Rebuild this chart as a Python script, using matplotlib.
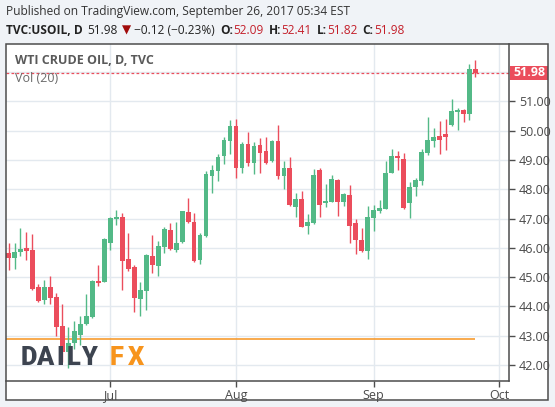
import matplotlib
matplotlib.use('Agg')
import matplotlib.pyplot as plt
from matplotlib.patches import Rectangle
from matplotlib.transforms import blended_transform_factory

# ---------------- data ----------------
opens = [45.81, 45.66, 45.86, 45.99, 45.92, 44.65, 44.23, 44.65, 44.31, 43.35,
         42.44, 42.75, 43.04, 43.41, 43.64, 44.87, 44.84, 46.17, 46.99, 47.05,
         45.61, 45.34, 44.24, 44.53, 45.72, 45.38, 46.03, 46.61, 45.92, 46.20,
         47.22, 46.88, 45.58, 46.40, 48.46, 48.64, 49.12, 49.66, 50.17, 48.74,
         49.55, 48.91, 49.52, 49.29, 48.95, 49.65, 48.46, 48.72, 47.40, 47.67,
         46.75, 46.85, 48.66, 47.53, 47.58, 48.32, 47.58, 47.80, 46.85, 46.26,
         45.90, 47.03, 47.26, 47.33, 48.57, 49.12, 49.04, 47.52, 48.07, 48.29,
         49.25, 49.66, 49.83, 49.89, 50.20, 50.65, 50.72, 50.57, 52.09]
highs = [46.17, 46.17, 46.69, 46.55, 46.49, 44.78, 44.89, 45.03, 44.45, 44.08,
         43.29, 43.50, 43.66, 44.41, 44.89, 45.41, 46.34, 47.06, 47.29, 47.20,
         46.51, 45.43, 44.84, 45.78, 46.43, 46.23, 46.72, 46.86, 46.88, 47.27,
         47.71, 47.18, 46.51, 48.63, 48.83, 49.21, 49.77, 50.37, 50.41, 49.62,
         49.94, 49.63, 49.75, 49.77, 49.69, 50.20, 48.95, 49.11, 47.86, 47.94,
         47.15, 48.70, 48.73, 48.18, 48.49, 48.35, 47.88, 48.15, 46.97, 46.68,
         47.43, 47.45, 47.63, 48.97, 49.38, 49.29, 49.23, 48.24, 48.40, 49.38,
         50.47, 50.09, 50.32, 50.41, 51.09, 50.77, 50.75, 52.26, 52.41]
lows = [45.26, 45.28, 45.72, 45.58, 44.55, 44.16, 44.07, 44.07, 42.98, 42.10,
        41.90, 42.55, 42.67, 43.38, 43.62, 44.69, 44.82, 45.92, 46.78, 44.55,
        45.20, 43.81, 43.66, 43.87, 45.14, 45.03, 45.83, 45.92, 45.86, 46.17,
        46.84, 45.53, 45.44, 46.38, 47.88, 48.29, 48.87, 49.21, 48.40, 48.57,
        48.81, 48.52, 48.57, 48.87, 48.92, 48.35, 48.01, 47.44, 47.06, 46.70,
        46.47, 46.81, 47.06, 47.40, 47.56, 47.10, 47.43, 46.17, 45.78, 45.86,
        45.61, 46.58, 47.18, 47.32, 48.55, 48.66, 47.32, 47.03, 47.78, 48.15,
        49.17, 49.44, 49.21, 49.35, 50.17, 50.03, 50.28, 50.37, 51.82]
closes = [45.67, 45.85, 45.96, 45.90, 44.61, 44.18, 44.65, 44.30, 43.29, 42.44,
          42.76, 43.15, 43.41, 43.66, 44.87, 44.80, 46.29, 47.03, 47.06, 45.55,
          45.27, 44.29, 44.55, 45.75, 45.42, 46.06, 46.64, 45.95, 46.15, 47.26,
          46.89, 45.55, 46.43, 48.52, 48.66, 49.11, 49.69, 50.17, 48.74, 49.55,
          48.91, 49.48, 49.25, 48.91, 49.65, 48.46, 48.72, 47.46, 47.67, 46.72,
          46.88, 48.49, 47.46, 47.60, 48.35, 47.58, 47.84, 46.75, 46.26, 45.90,
          47.05, 47.29, 47.37, 48.57, 49.14, 49.07, 47.37, 48.09, 48.32, 49.27,
          49.69, 49.78, 49.69, 49.77, 50.68, 50.69, 50.58, 52.09, 51.98]

month_ticks = [17, 38, 61, 82]          # bar index of first trading day
month_labels = ['Jul', 'Aug', 'Sep', 'Oct']
price_ticks = [42, 43, 44, 45, 46, 47, 48, 49, 50, 51]
last_price = 51.98
support_level = 42.90

header_title = "Published on TradingView.com, September 26, 2017 05:34 EST"
symbol_text = "TVC:USOIL, D"
last_text = "51.98"
change_text = "\u22120.12 (\u22120.23%)"
ohlc_keys = ["O:", "H:", "L:", "C:"]
ohlc_vals = ["52.09", "52.41", "51.82", "51.98"]
chart_title = "WTI CRUDE OIL, D, TVC"
vol_label = "Vol (20)"
logo_dark = ["D", "A", "I", "L", "Y"]
logo_orange = ["F", "X"]

# ---------------- styles ----------------
W, H = 555, 407
GREEN = '#53b987'
RED = '#eb4d5c'
GRID = '#e3e9ef'
AXC = '#4d4d4d'
TXT = '#4a4a4a'
FONT = 'Open Sans'
plt.rcParams['font.family'] = [FONT, 'DejaVu Sans']

fig = plt.figure(figsize=(W / 100, H / 100), dpi=100, facecolor='#f0f3f7')


def fx(px):
    return px / W


def fy(py):
    return 1 - py / H


# white chart panel
fig.add_artist(Rectangle((fx(6), fy(400)), fx(548) - fx(6), fy(44) - fy(400),
                         transform=fig.transFigure, facecolor='white',
                         edgecolor='none', zorder=-2))
fig.add_artist(Rectangle((fx(6), fy(400)), fx(548) - fx(6), fy(44) - fy(400),
                         transform=fig.transFigure, facecolor='none',
                         edgecolor=AXC, lw=1.1, zorder=10))

ax = fig.add_axes([fx(6), fy(381), fx(509.3) - fx(6), fy(44) - fy(381)])
ax.set_facecolor('none')
ax.set_xlim(-0.42, 83.65)
ax.set_ylim(41.457, 52.959)

for s in ['top', 'left']:
    ax.spines[s].set_visible(False)
for s in ['right', 'bottom']:
    ax.spines[s].set_color(AXC)
    ax.spines[s].set_linewidth(1.1)

# grid
ax.set_yticks(price_ticks)
ax.set_yticklabels([f'{p:.2f}' for p in price_ticks])
ax.set_xticks(month_ticks)
ax.set_xticklabels(month_labels)
for p in price_ticks + [52]:
    ax.axhline(p, color=GRID, lw=1, zorder=0)
for m in month_ticks:
    ax.axvline(m, color=GRID, lw=1, zorder=0)

ax.yaxis.tick_right()
ax.tick_params(axis='y', length=4, width=1, color=AXC, pad=3,
               labelsize=9, labelcolor=TXT)
ax.tick_params(axis='x', length=4, width=1, color=AXC, pad=2,
               labelsize=9, labelcolor=TXT)

# candles
xs = list(range(len(opens)))
cols = [GREEN if c >= o else RED for o, c in zip(opens, closes)]
bottoms = [min(o, c) for o, c in zip(opens, closes)]
heights = [max(abs(c - o), 0.035) for o, c in zip(opens, closes)]
ax.vlines(xs, lows, highs, colors=cols, lw=1, zorder=3)
ax.bar(xs, heights, bottom=bottoms, width=0.8, color=cols, lw=0, zorder=4)

# support line and last price line
ax.hlines(support_level, ax.get_xlim()[0], xs[-1], color='#f7931e', lw=1.1, zorder=2)
ax.axhline(last_price, color=RED, lw=0.9, ls=(0, (2.2, 1.8)), zorder=2)

# last price label
bt = blended_transform_factory(fig.transFigure, ax.transData)
ax.add_patch(Rectangle((fx(510), last_price - 0.24), fx(548) - fx(510), 0.48,
                       transform=bt, facecolor=RED, edgecolor='none',
                       clip_on=False, zorder=11))
ax.text(fx(529.5), last_price, last_text, transform=bt, ha='center', va='center',
        color='white', fontsize=9, fontweight='bold', zorder=12, clip_on=False)

# chart title inside panel
fig.text(fx(15), fy(61), chart_title, fontsize=9, fontweight='bold',
         color='#5a5a5a', va='center', ha='left')
fig.text(fx(15), fy(78), vol_label, fontsize=9, color='#6a6a6a',
         va='center', ha='left')

# header line 1
fig.text(fx(6), fy(12), header_title, fontsize=8.6, color='#333333',
         va='center', ha='left')

# header line 2 (sequential runs)
renderer = fig.canvas.get_renderer()
runs = [(symbol_text, dict(fontweight='bold', color='#222222'), 5),
        (last_text, dict(color='#222222'), 4),
        ('\u25bc', dict(color='#a10b0b', family='DejaVu Sans'), 3),
        (change_text, dict(color='#222222'), 5)]
for k, v in zip(ohlc_keys, ohlc_vals):
    runs.append((k, dict(fontweight='bold', color='#222222'), 0.5))
    runs.append((v, dict(color='#c4202b'), 5))
xpos = 6
for s, kw, gap in runs:
    t = fig.text(fx(xpos), fy(30), s, fontsize=8.6, va='center', ha='left', **kw)
    xpos += t.get_window_extent(renderer).width + gap

# DAILYFX logo
logo_x_dark = [20.5, 36.5, 56.5, 66.5, 81.5]
logo_x_orange = [110, 128]
for ch, px in zip(logo_dark, logo_x_dark):
    fig.text(fx(px), fy(365), ch, fontsize=18.3, fontweight='heavy',
             family='Roboto', color='#3d4450', va='baseline', ha='left', zorder=20)
for ch, px in zip(logo_orange, logo_x_orange):
    fig.text(fx(px), fy(365), ch, fontsize=18.3, fontweight='heavy',
             family='Roboto', color='#f7941d', va='baseline', ha='left', zorder=20)

fig.savefig('out.png', dpi=100, facecolor=fig.get_facecolor())
